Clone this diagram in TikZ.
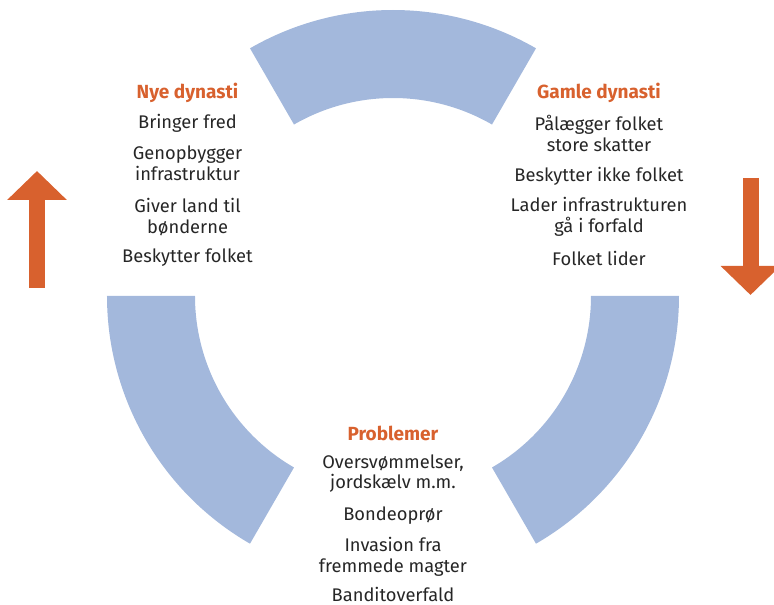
\documentclass[tikz,border=0pt]{standalone}
\usepackage{fontspec}
\setmainfont{Fira Sans}
\usetikzlibrary{arrows.meta,positioning}
\definecolor{ringblue}{HTML}{A3B8DC}
\definecolor{cycleorange}{HTML}{D8612E}
\definecolor{textgrey}{HTML}{262626}
\tikzset{
  segment/.style={fill=ringblue, draw=none},
  heading/.style={font=\fontsize{19}{21}\selectfont\bfseries, text=cycleorange, inner sep=0pt},
  item/.style={font=\fontsize{18.3}{20.5}\selectfont, text=textgrey, align=center, inner sep=0pt},
  bigarrow/.style={draw=cycleorange, line width=16pt, -{Triangle[width=58pt,length=29pt]}}
}
% one third of the ring, starting at angle #1
\newcommand{\ringseg}[1]{%
  \fill[segment] (#1:286pt) arc[start angle=#1, delta angle=60, radius=286pt]
    -- (#1+60:198pt) arc[start angle=#1+60, delta angle=-60, radius=198pt] -- cycle;}

\begin{document}
\begin{tikzpicture}[x=1pt, y=1pt]
    \useasboundingbox (-393,-309) rectangle (381,296);

    % Ring
    \ringseg{60}
    \ringseg{180}
    \ringseg{300}

    % Nye dynasti
    \node [heading] (newhead) at (-205.5,203) {Nye dynasti};
    \node [item] (peace) at (-205.5,173) {Bringer fred};
    \node [item] (rebuild) at (-205.5,133) {Genopbygger\\infrastruktur};
    \node [item] (land) at (-205.5,79) {Giver land til\\bønderne};
    \node [item] (protect) at (-205.5,38) {Beskytter folket};

    % Gamle dynasti
    \node [heading] (oldhead) at (206,203) {Gamle dynasti};
    \node [item] (taxes) at (206,162.5) {Pålægger folket\\store skatter};
    \node [item] (noprotect) at (206,120) {Beskytter ikke folket};
    \node [item] (decay) at (206,79) {Lader infrastrukturen\\gå i forfald};
    \node [item] (suffer) at (206,38) {Folket lider};

    % Problemer
    \node [heading] (probhead) at (0,-137) {Problemer};
    \node [item] (floods) at (0,-177.5) {Oversvømmelser,\\jordskælv m.m.};
    \node [item] (revolt) at (0,-220) {Bondeoprør};
    \node [item] (invasion) at (0,-261) {Invasion fra\\fremmede magter};
    \node [item] (bandits) at (0,-298.5) {Banditoverfald};

    % Arrows
    \coordinate (upfoot) at (-356,8);
    \coordinate (uptip) at (-356,125);
    \coordinate (downfoot) at (357.5,118);
    \coordinate (downtip) at (357.5,1);
    \draw [bigarrow] (upfoot) -- (uptip);
    \draw [bigarrow] (downfoot) -- (downtip);
\end{tikzpicture}
\end{document}
